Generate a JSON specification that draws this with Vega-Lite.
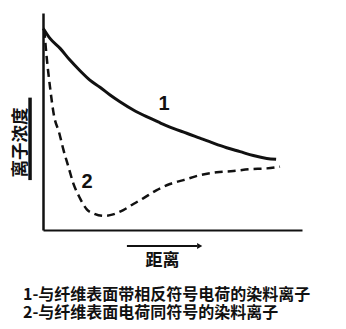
{
  "$schema": "https://vega.github.io/schema/vega-lite/v6.json",
  "autosize": {"type": "none"},
  "width": 259,
  "height": 217,
  "padding": {"left": 43, "top": 13, "right": 44, "bottom": 99},
  "background": "white",
  "config": {"view": {"stroke": null}},
  "title": {
    "text": ["1-与纤维表面带相反符号电荷的染料离子", "2-与纤维表面电荷同符号的染料离子"],
    "orient": "bottom",
    "anchor": "start",
    "frame": "group",
    "dx": -20,
    "offset": 19,
    "font": "Noto Sans CJK SC",
    "fontSize": 16,
    "fontWeight": "bold",
    "lineHeight": 18,
    "color": "#111"
  },
  "datasets": {
    "curves": [
      {"series": "1", "x": 0.1, "y": 92.9},
      {"series": "1", "x": 2.7, "y": 88.3},
      {"series": "1", "x": 6.6, "y": 83.7},
      {"series": "1", "x": 10.4, "y": 78.3},
      {"series": "1", "x": 14.3, "y": 73.4},
      {"series": "1", "x": 18.1, "y": 69.1},
      {"series": "1", "x": 22.0, "y": 65.8},
      {"series": "1", "x": 25.9, "y": 62.2},
      {"series": "1", "x": 29.7, "y": 59.1},
      {"series": "1", "x": 34.9, "y": 55.3},
      {"series": "1", "x": 40.0, "y": 52.2},
      {"series": "1", "x": 45.2, "y": 49.4},
      {"series": "1", "x": 50.3, "y": 46.8},
      {"series": "1", "x": 55.5, "y": 44.6},
      {"series": "1", "x": 60.6, "y": 42.3},
      {"series": "1", "x": 65.8, "y": 40.0},
      {"series": "1", "x": 70.9, "y": 37.9},
      {"series": "1", "x": 76.1, "y": 36.1},
      {"series": "1", "x": 81.2, "y": 34.3},
      {"series": "1", "x": 86.4, "y": 33.0},
      {"series": "1", "x": 90.0, "y": 32.6},
      {"series": "2", "x": 0.5, "y": 92.2},
      {"series": "2", "x": 1.4, "y": 79.9},
      {"series": "2", "x": 2.7, "y": 66.0},
      {"series": "2", "x": 4.2, "y": 53.0},
      {"series": "2", "x": 6.3, "y": 44.6},
      {"series": "2", "x": 7.9, "y": 36.9},
      {"series": "2", "x": 9.8, "y": 29.2},
      {"series": "2", "x": 11.7, "y": 21.5},
      {"series": "2", "x": 14.3, "y": 14.6},
      {"series": "2", "x": 16.9, "y": 9.5},
      {"series": "2", "x": 19.4, "y": 7.7},
      {"series": "2", "x": 23.3, "y": 6.5},
      {"series": "2", "x": 27.1, "y": 7.2},
      {"series": "2", "x": 31.0, "y": 9.2},
      {"series": "2", "x": 34.9, "y": 12.0},
      {"series": "2", "x": 38.7, "y": 14.6},
      {"series": "2", "x": 43.9, "y": 18.4},
      {"series": "2", "x": 49.0, "y": 21.2},
      {"series": "2", "x": 54.2, "y": 23.0},
      {"series": "2", "x": 60.6, "y": 25.3},
      {"series": "2", "x": 67.1, "y": 26.6},
      {"series": "2", "x": 73.5, "y": 27.2},
      {"series": "2", "x": 79.9, "y": 28.0},
      {"series": "2", "x": 86.4, "y": 28.4},
      {"series": "2", "x": 91.5, "y": 29.2}
    ],
    "labels": [
      {"label": "1", "x": 46.7, "y": 58.1},
      {"label": "2", "x": 17.0, "y": 22.1}
    ]
  },
  "layer": [
    {
      "data": {"name": "curves"},
      "transform": [{"filter": "datum.series == '1'"}],
      "mark": {"type": "line", "color": "#111", "strokeWidth": 3, "interpolate": "monotone"},
      "encoding": {
        "x": {
          "field": "x", "type": "quantitative",
          "scale": {"domain": [0, 100], "nice": false, "zero": false},
          "axis": {
            "domain": true, "domainColor": "#111", "domainWidth": 2,
            "ticks": false, "labels": false, "grid": false,
            "title": "距离", "titleFont": "Noto Sans CJK SC", "titleFontSize": 17,
            "titleFontWeight": "bold", "titleColor": "#111",
            "titleX": 119, "titleY": 30, "titleBaseline": "middle"
          }
        },
        "y": {
          "field": "y", "type": "quantitative",
          "scale": {"domain": [0, 100], "nice": false, "zero": false},
          "axis": {
            "domain": true, "domainColor": "#111", "domainWidth": 2.5,
            "ticks": false, "labels": false, "grid": false,
            "title": "离子浓度", "titleFont": "Noto Sans CJK SC", "titleFontSize": 17.5,
            "titleFontWeight": "bold", "titleColor": "#111",
            "titleX": -23, "titleY": 129, "titleBaseline": "middle", "titleAngle": -90
          }
        }
      }
    },
    {
      "data": {"name": "curves"},
      "transform": [{"filter": "datum.series == '2'"}],
      "mark": {"type": "line", "color": "#111", "strokeWidth": 2.5, "strokeDash": [8, 5], "interpolate": "monotone"},
      "encoding": {
        "x": {"field": "x", "type": "quantitative"},
        "y": {"field": "y", "type": "quantitative"}
      }
    },
    {
      "data": {"name": "labels"},
      "mark": {"type": "text", "font": "Liberation Sans", "fontSize": 20, "fontWeight": "bold", "color": "#111", "baseline": "middle", "align": "center"},
      "encoding": {
        "x": {"field": "x", "type": "quantitative"},
        "y": {"field": "y", "type": "quantitative"},
        "text": {"field": "label"}
      }
    },
    {
      "data": {"values": [{}]},
      "mark": {"type": "rule", "color": "#111", "strokeWidth": 3.5},
      "encoding": {
        "x": {"datum": -5},
        "y": {"datum": 23},
        "y2": {"datum": 61}
      }
    },
    {
      "data": {"values": [{}]},
      "mark": {"type": "rule", "color": "#111", "strokeWidth": 2},
      "encoding": {
        "x": {"datum": 32.4},
        "x2": {"datum": 59.5},
        "y": {"datum": -7.4}
      }
    },
    {
      "data": {"values": [{}]},
      "mark": {"type": "point", "shape": "triangle-right", "filled": true, "color": "#111", "size": 35, "opacity": 1},
      "encoding": {
        "x": {"datum": 60.5},
        "y": {"datum": -7.4}
      }
    }
  ]
}
